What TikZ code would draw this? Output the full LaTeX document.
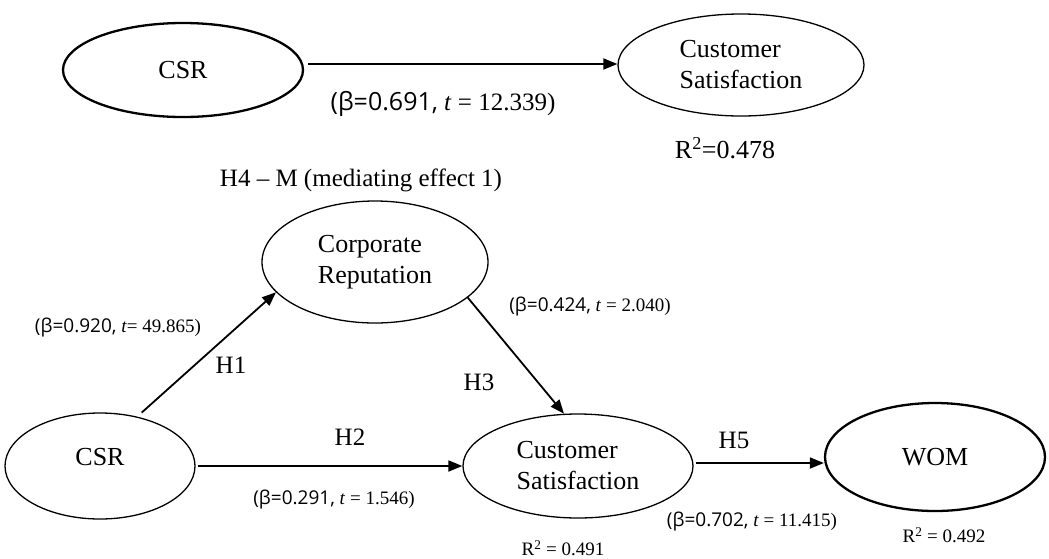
\documentclass[tikz,border=0pt]{standalone}
\usepackage{fontspec}
\setmainfont{Liberation Serif}
\newfontfamily\sansf{Open Sans}
\usetikzlibrary{shapes.geometric,arrows.meta}
\begin{document}
\begin{tikzpicture}[x=1pt,y=-1pt,
  lv/.style={ellipse,draw,line width=1.3pt,inner sep=0pt,align=left,font=\fontsize{26}{31}\selectfont},
  lvb/.style={lv,line width=2.3pt},
  arr/.style={line width=1.8pt,-{Triangle[length=14pt,width=11pt]}},
  hl/.style={font=\fontsize{25}{30}\selectfont,inner sep=0pt},
  bl/.style={font=\fontsize{19}{23}\selectfont,inner sep=0pt},
  tl/.style={font=\fontsize{25}{30}\selectfont,inner sep=0pt},
]
\useasboundingbox (0,0) rectangle (1049,558);

% latent variables
\node[lvb,minimum width=240pt,minimum height=94pt] (csr1) at (183,70) {CSR};
\node[lv,minimum width=246pt,minimum height=102pt] (cs1) at (741,65) {Customer\\Satisfaction};
\node[lv,minimum width=226pt,minimum height=122pt] (cr) at (375,262) {Corporate\\Reputation};
\node[lv,minimum width=190pt,minimum height=106pt,text height=17pt,text depth=18pt] (csr2) at (100,466) {CSR};
\node[lv,minimum width=230pt,minimum height=104pt] (cs2) at (578,466) {Customer\\Satisfaction};
\node[lvb,minimum width=220pt,minimum height=108pt] (wom) at (935,457) {WOM};

% paths
\draw[arr,shorten <=4pt] ([yshift=6pt]csr1.east) -- ([yshift=6pt]csr1.east -| cs1.west);
\draw[arr,shorten <=2pt] (csr2.east) -- (cs2.west);
\draw[arr,shorten <=2pt] ([yshift=3pt]cs2.east) -- ([yshift=3pt]cs2.east -| wom.west);
\draw[arr,shorten <=6pt] (csr2.53) -- (cr.197);
\draw[arr] (cr.-21) -- (cs2.105);

% labels
\node[tl] (b1) at (443,104) {{\sansf(β=0.691,} \textit{t} = 12.339)};
\node[font=\fontsize{26}{31}\selectfont,inner sep=0pt] (r1) at (725,148) {R\textsuperscript{2}=0.478};
\node[hl] (h4) at (361,180) {H4 – M (mediating effect 1)};
\node[bl] (b2) at (118,328) {{\sansf(β=0.920,} \textit{t}= 49.865)};
\node[hl] (h1) at (231,365) {H1};
\node[bl] (b3) at (590,307) {{\sansf(β=0.424,} \textit{t} = 2.040)};
\node[hl] (h3) at (479,382) {H3};
\node[hl] (h2) at (350,437) {H2};
\node[bl] (b4) at (334,500) {{\sansf(β=0.291,} \textit{t} = 1.546)};
\node[hl] (h5) at (734,440) {H5};
\node[bl] (b5) at (752,522) {{\sansf(β=0.702,} \textit{t} = 11.415)};
\node[bl] (r2) at (563,548) {R\textsuperscript{2} = 0.491};
\node[bl] (r3) at (944,535) {R\textsuperscript{2} = 0.492};
\end{tikzpicture}
\end{document}
